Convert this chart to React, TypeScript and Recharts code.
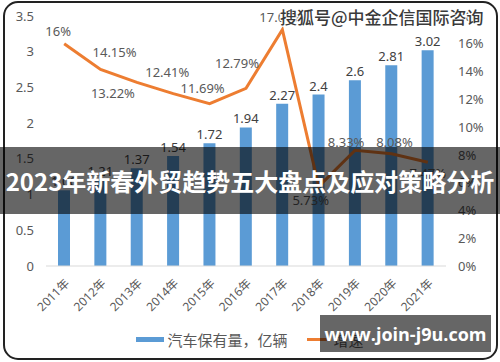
import React from 'react';
import { ComposedChart, Bar, Line, XAxis, YAxis, LabelList, Legend } from 'recharts';

const years = ['2011年', '2012年', '2013年', '2014年', '2015年', '2016年', '2017年', '2018年', '2019年', '2020年', '2021年'];
const ownership = [1.06, 1.21, 1.37, 1.54, 1.72, 1.94, 2.27, 2.4, 2.6, 2.81, 3.02];
const growth = [16, 14.15, 13.22, 12.41, 11.69, 12.79, 17.01, 5.73, 8.33, 8.08, 7.47];
const leftTicks = [0, 0.5, 1, 1.5, 2, 2.5, 3, 3.5];
const rightTicks = [0, 2, 4, 6, 8, 10, 12, 14, 16, 18];

const barName = '汽车保有量，亿辆';
const lineName = '增速';
const titleText = '2023年新春外贸趋势五大盘点及应对策略分析';
const topMark = '搜狐号@中金企信国际咨询';
const bottomMark = 'www.join-j9u.com';

// label placement (style only)
const lineLabelShift: [number, number][] = [
  [-6, -13], [14, -17], [-24, 11], [-6, -22], [-7, -16], [-9, -25],
  [-1, -13], [-8, 14], [-9, -8], [3, -12], [0, 11],
];

const data = years.map((y, i) => ({ year: y, own: ownership[i], g: growth[i] }));

const FONT = '"Noto Sans", "Noto Sans CJK SC", sans-serif';
const BLUE = '#5B9BD5';
const ORANGE = '#ED7D31';
const GREY = '#595959';

const fmtPct = (v: number) => {
  const s = Number.isInteger(v) ? String(v) : v.toFixed(2);
  return s + '%';
};

const LineLabel = (props: any) => {
  const { x, y, index, value } = props;
  const [dx, dy] = lineLabelShift[index] || [0, -10];
  return (
    <text x={x + dx} y={y + dy} textAnchor="middle" dominantBaseline="central" fill={GREY} fontSize={13} fontFamily={FONT}>
      {fmtPct(value)}
    </text>
  );
};

const LegendContent = () => (
  <div style={{ display: 'flex', justifyContent: 'center', alignItems: 'center', height: 30, fontFamily: FONT, fontSize: 15, color: GREY }}>
    <span style={{ display: 'inline-block', width: 28, height: 5, background: BLUE, marginRight: 3 }} />
    <span>{barName}</span>
    <span style={{ display: 'inline-block', width: 24, height: 3, background: ORANGE, marginLeft: 19, marginRight: 3 }} />
    <span>{lineName}</span>
  </div>
);

export default function App() {
  return (
    <div style={{ position: 'absolute', left: 0, top: 0, width: 500, height: 362, background: '#fff', overflow: 'hidden' }}>
      <ComposedChart width={500} height={362} data={data} margin={{ top: 16, right: 0, bottom: 8, left: 0 }}>
        <XAxis
          dataKey="year"
          interval={0}
          angle={-45}
          textAnchor="end"
          tickLine={false}
          axisLine={{ stroke: '#D9D9D9' }}
          tick={{ fill: GREY, fontSize: 12, fontFamily: FONT }}
          height={58}
          tickMargin={6}
        />
        <YAxis
          yAxisId="left"
          domain={[0, 3.5]}
          ticks={leftTicks}
          width={46}
          tickLine={false}
          axisLine={false}
          tickSize={0}
          tickMargin={12}
          tick={{ fill: GREY, fontSize: 13, fontFamily: FONT }}
        />
        <YAxis
          yAxisId="right"
          orientation="right"
          domain={[0, 18]}
          ticks={rightTicks}
          width={54}
          tickLine={false}
          axisLine={false}
          tickSize={0}
          tickMargin={12}
          tickFormatter={(v: number) => v + '%'}
          tick={{ fill: GREY, fontSize: 13, fontFamily: FONT, textAnchor: 'start' }}
        />
        <Legend verticalAlign="bottom" content={LegendContent} wrapperStyle={{ height: 30 }} />
        <Bar yAxisId="left" dataKey="own" name={barName} fill={BLUE} barSize={12} isAnimationActive={false}>
          <LabelList dataKey="own" position="top" offset={4} fill="#404040" fontSize={13} fontFamily={FONT} />
        </Bar>
        <Line yAxisId="right" dataKey="g" name={lineName} stroke={ORANGE} strokeWidth={3} dot={false} isAnimationActive={false}>
          <LabelList dataKey="g" content={LineLabel} />
        </Line>
      </ComposedChart>

      <div style={{ position: 'absolute', left: 3, top: 1, width: 491, height: 355, border: '2px solid #222', borderRadius: 15, pointerEvents: 'none' }} />

      <div style={{ position: 'absolute', left: 0, top: 147, width: 500, height: 67, background: 'rgba(0,0,0,0.6)', display: 'flex', alignItems: 'center', justifyContent: 'center' }}>
        <span style={{ color: '#fff', fontWeight: 700, fontSize: 24, fontFamily: '"Noto Sans CJK SC", sans-serif', whiteSpace: 'nowrap' }}>{titleText}</span>
      </div>

      <div style={{ position: 'absolute', left: 280, top: 4, fontSize: 17, fontWeight: 500, fontFamily: '"Noto Sans CJK SC", sans-serif', color: '#3a3a3a', textShadow: '1px 1px 0 #fff, -1px -1px 0 #fff, 1px -1px 0 #fff, -1px 1px 0 #fff', whiteSpace: 'nowrap' }}>
        {topMark}
      </div>

      <div style={{ position: 'absolute', left: 320, top: 315, width: 171, height: 37, background: 'rgba(0,0,0,0.6)', display: 'flex', alignItems: 'center', justifyContent: 'center' }}>
        <span style={{ color: '#fff', fontWeight: 700, fontSize: 18, fontFamily: '"Open Sans", "Noto Sans", sans-serif', whiteSpace: 'nowrap' }}>{bottomMark}</span>
      </div>
    </div>
  );
}
